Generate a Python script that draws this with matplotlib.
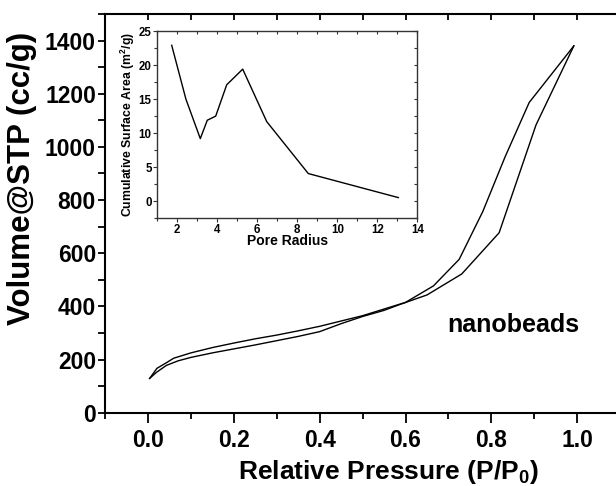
import matplotlib
matplotlib.use("Agg")
import matplotlib.pyplot as plt
from matplotlib.ticker import MultipleLocator

plt.rcParams['font.family'] = ['Liberation Sans', 'DejaVu Sans']
plt.rcParams['font.weight'] = 'bold'
plt.rcParams['mathtext.fontset'] = 'custom'
plt.rcParams['mathtext.rm'] = 'Liberation Sans:bold'
plt.rcParams['mathtext.bf'] = 'Liberation Sans:bold'
plt.rcParams['mathtext.default'] = 'bf'

# Isotherm data (relative pressure P/P0, volume cc/g)
ads_p = [0.004, 0.02, 0.043, 0.07, 0.10, 0.15, 0.20, 0.25, 0.30, 0.35, 0.40,
         0.45, 0.50, 0.55, 0.583, 0.65, 0.731, 0.818, 0.904, 0.992]
ads_v = [129, 152, 178, 195, 208, 225, 240, 255, 271, 287, 305,
         335, 362, 385, 405, 443, 522, 677, 1083, 1380]
des_p = [0.992, 0.888, 0.832, 0.780, 0.725, 0.665, 0.60, 0.55, 0.50, 0.45,
         0.40, 0.35, 0.30, 0.25, 0.20, 0.15, 0.10, 0.06, 0.043, 0.021, 0.004]
des_v = [1380, 1167, 963, 757, 577, 477, 415, 390, 365, 345,
         325, 308, 292, 278, 262, 245, 225, 205, 188, 167, 129]

# Inset: pore size distribution
pore_r = [1.72, 2.43, 3.15, 3.5, 3.92, 4.47, 5.27, 6.47, 8.55, 13.05]
surf_a = [22.9, 15.0, 9.2, 11.9, 12.5, 17.1, 19.4, 11.7, 4.07, 0.54]

x_ticks = [0.0, 0.2, 0.4, 0.6, 0.8, 1.0]
x_tick_labels = ['0.0', '0.2', '0.4', '0.6', '0.8', '1.0']
y_ticks = [0, 200, 400, 600, 800, 1000, 1200, 1400]

W, H = 616, 486
fig = plt.figure(figsize=(W / 100, H / 100), dpi=100)

ax = fig.add_axes([105 / W, (H - 412.7) / H, 515.2 / W, 398.7 / H])
ax.plot(ads_p, ads_v, color='black', lw=1.0)
ax.plot(des_p, des_v, color='black', lw=1.0)
ax.set_xlim(-0.1, 1.1)
ax.set_ylim(0, 1500)
ax.set_xticks(x_ticks)
ax.set_xticklabels(x_tick_labels)
ax.xaxis.set_minor_locator(MultipleLocator(0.1))
ax.set_yticks(y_ticks)
ax.yaxis.set_minor_locator(MultipleLocator(100))
ax.spines['right'].set_visible(False)
for s in ['left', 'bottom', 'top']:
    ax.spines[s].set_linewidth(1.5)
ax.tick_params(axis='x', which='major', direction='out', length=7, width=1.3,
               labelsize=16.5, pad=5, top=True)
ax.tick_params(axis='x', which='minor', direction='out', length=4, width=1.3, top=True)
ax.tick_params(axis='y', which='both', direction='out', length=5, width=1.3,
               labelsize=16.5, pad=1.5)
ax.tick_params(axis='x', which='both', labeltop=False)
for t in ax.xaxis.get_major_ticks() + ax.xaxis.get_minor_ticks():
    t.tick2line.set_marker(3)
    t.tick2line.set_markersize(4)
for lab in ax.get_xticklabels() + ax.get_yticklabels():
    lab.set_fontweight('bold')

fig.text(238 / W, 1 - 479 / H, 'Relative Pressure (P/P$_{0}$)', fontsize=19,
         fontweight='bold', ha='left', va='baseline')
fig.text(22 / W, 1 - 178 / H, 'Volume@STP (cc/g)', fontsize=22.5,
         fontweight='bold', ha='center', va='center', rotation=90)
ax.text(0.793, 0.22, 'nanobeads', transform=ax.transAxes, fontsize=18,
        fontweight='bold', ha='center', va='center')

# Inset
ins = fig.add_axes([157.3 / W, (H - 218.3) / H, 260 / W, 187.3 / H])
ins.plot(pore_r, surf_a, color='black', lw=1.0)
ins.set_xlim(1, 14)
ins.set_ylim(-2.5, 25)
ins.xaxis.set_major_locator(MultipleLocator(2))
ins.xaxis.set_minor_locator(MultipleLocator(1))
ins.yaxis.set_major_locator(MultipleLocator(5))
ins.yaxis.set_minor_locator(MultipleLocator(2.5))
for s in ins.spines.values():
    s.set_linewidth(1.0)
    s.set_color('#333333')
ins.tick_params(which='both', direction='out', width=0.8, labelsize=8.3, pad=1,
                top=True, right=True, color='#333333')
ins.tick_params(which='major', length=3)
ins.tick_params(which='minor', length=2)
for t in ins.xaxis.get_major_ticks() + ins.xaxis.get_minor_ticks():
    t.tick2line.set_marker(3)
    t.tick2line.set_markersize(2.5)
for t in ins.yaxis.get_major_ticks() + ins.yaxis.get_minor_ticks():
    t.tick2line.set_marker(0)
    t.tick2line.set_markersize(2.5)
for lab in ins.get_xticklabels() + ins.get_yticklabels():
    lab.set_fontweight('bold')
ins.set_xlabel('Pore Radius', fontsize=10, fontweight='bold', labelpad=-1)
ins.set_ylabel('Cumulative Surface Area (m$^{2}$/g)', fontsize=8.8,
               fontweight='bold', labelpad=1)

fig.savefig('out.png', dpi=100)
